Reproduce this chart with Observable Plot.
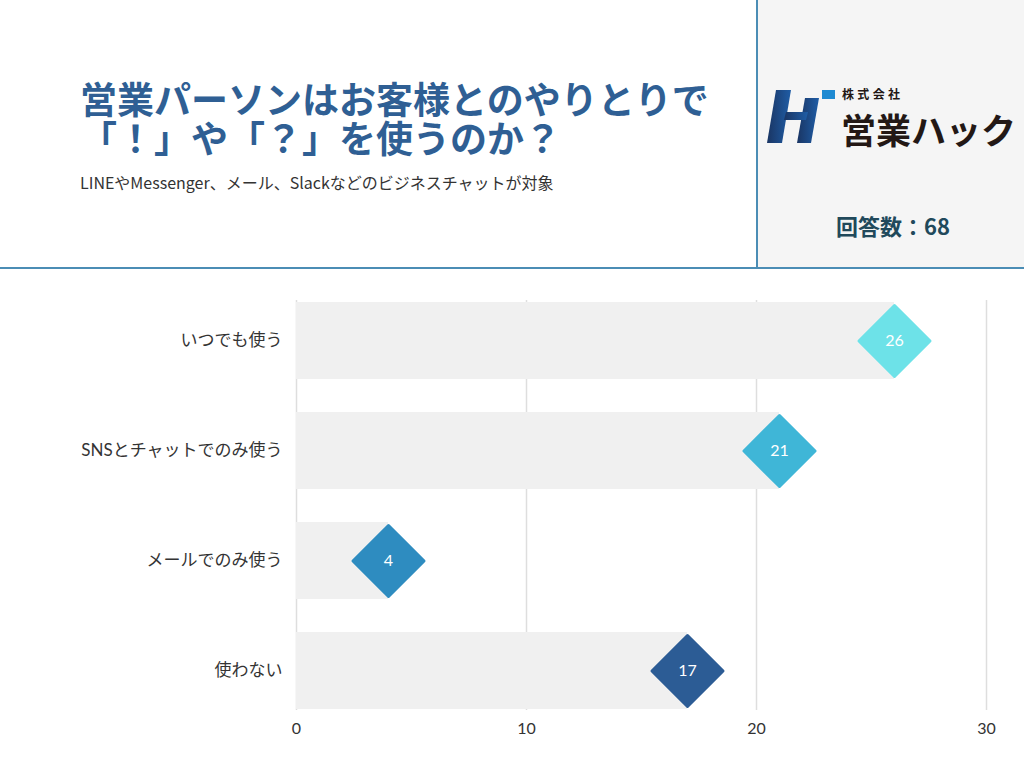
<!DOCTYPE html>
<html>
<head>
<meta charset="utf-8">
<script src="https://cdn.jsdelivr.net/npm/d3@7"></script>
<script src="https://cdn.jsdelivr.net/npm/@observablehq/plot@0.6"></script>
<style>
  html, body { margin: 0; padding: 0; background: #fff; }
  #page { position: relative; width: 1024px; height: 768px; overflow: hidden; background: #fff;
    font-family: Lato, "Noto Sans CJK JP", sans-serif; }
  .title { position: absolute; left: 80px; font-size: 37px; line-height: 37px; height: 37px; font-weight: 700;
    color: #2f5f94; font-family: "Noto Sans CJK JP", sans-serif; white-space: nowrap; }
  #title1 { top: 80px; }
  #title2 { top: 119px; }
  #subtitle { position: absolute; left: 80px; top: 172px; font-size: 16px; line-height: 20px; color: #333;
    font-family: "Noto Sans CJK JP", sans-serif; white-space: nowrap; }
  #panel { position: absolute; left: 758px; top: 0; width: 266px; height: 267px; background: #f5f5f5; }
  #vline { position: absolute; left: 756px; top: 0; width: 2px; height: 269px; background: #4b8db5; }
  #hline { position: absolute; left: 0; top: 267px; width: 1024px; height: 2px; background: #4b8db5; }
  #count { position: absolute; left: 760px; width: 266px; top: 211px; text-align: center; font-size: 22px;
    line-height: 28px; font-weight: 700; color: #21495b; font-family: "Noto Sans CJK JP", sans-serif; }
  #logo { position: absolute; left: 758px; top: 80px; }
  #chart { position: absolute; left: 0; top: 270px; }
</style>
</head>
<body>
<div id="page">
  <div id="panel"></div>
  <div id="vline"></div>
  <div id="hline"></div>
  <div class="title" id="title1">営業パーソンはお客様とのやりとりで</div>
  <div class="title" id="title2">「！」や「？」を使うのか？</div>
  <div id="subtitle">LINEやMessenger、メール、Slackなどのビジネスチャットが対象</div>
  <svg id="logo" width="266" height="75" viewBox="0 0 266 75">
    <defs>
      <linearGradient id="hg" x1="0" x2="1" y1="0" y2="0">
        <stop offset="0" stop-color="#1a3563"/>
        <stop offset="1" stop-color="#1f5da6"/>
      </linearGradient>
    </defs>
    <g fill="url(#hg)">
      <polygon points="18,10 33,10 24,63 9,63"/>
      <polygon points="47,18 61,18 53,63 39,63"/>
      <polygon points="28,32 50,32 48,40 26,40"/>
    </g>
    <rect x="64" y="10" width="13" height="9" fill="#1e8ad2"/>
    <text x="84" y="19" font-size="12" font-weight="700" fill="#231815" font-family="'Noto Sans CJK JP', sans-serif" textLength="58">株式会社</text>
    <text x="83" y="64" font-size="35" font-weight="700" fill="#231815" font-family="'Noto Sans CJK JP', sans-serif" textLength="175" lengthAdjust="spacingAndGlyphs">営業ハック</text>
  </svg>
  <div id="count">回答数：68</div>
  <div id="chart"></div>
</div>
<script>
const categories = ["いつでも使う", "SNSとチャットでのみ使う", "メールでのみ使う", "使わない"];
const values = [26, 21, 4, 17];
const colors = ["#6de2e8", "#3fb6d7", "#2e8cc0", "#2c5c95"];
const xTicks = [0, 10, 20, 30];

const data = categories.map((c, i) => ({category: c, value: values[i], color: colors[i]}));

const chart = Plot.plot({
  width: 1024,
  height: 498,
  marginLeft: 296,
  marginRight: 38,
  marginTop: 30,
  marginBottom: 58,
  style: {fontSize: "16px", fontFamily: "Lato, 'Noto Sans CJK JP', sans-serif", color: "#333", background: "transparent"},
  x: {domain: [0, 30], ticks: xTicks, tickSize: 0, tickPadding: 12, label: null},
  y: {domain: categories, paddingInner: 0.3, paddingOuter: 0, axis: null},
  color: {type: "identity"},
  marks: [
    Plot.ruleX(xTicks, {stroke: "#dedede", strokeWidth: 1.5}),
    Plot.barX(data, {x: "value", y: "category", fill: "#f0f0f0"}),
    Plot.axisY({tickSize: 0, tickPadding: 14, fontSize: 17, label: null}),
    Plot.dot(data, {x: "value", y: "category", symbol: "diamond2", r: 32, fill: "color", stroke: "color",
      strokeWidth: 3, strokeLinejoin: "round"}),
    Plot.text(data, {x: "value", y: "category", text: d => String(d.value), fill: "white", fontSize: 16,
      fontFamily: "Lato, sans-serif"})
  ]
});
document.getElementById("chart").appendChild(chart);
</script>
</body>
</html>
